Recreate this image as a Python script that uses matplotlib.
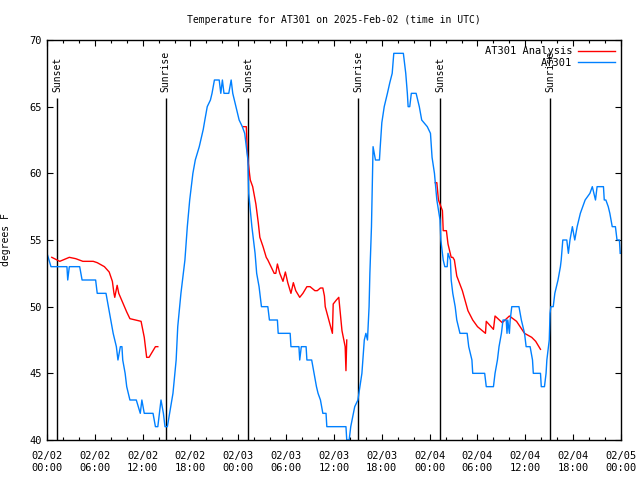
import numpy as np
import pandas as pd
import matplotlib
matplotlib.use("Agg")
import matplotlib.pyplot as plt
import matplotlib.dates as mdates

plt.rcParams['font.family'] = ['DejaVu Sans Mono']

start = pd.Timestamp("2025-02-02 00:00")

# AT301 observations: hours since 02/02 00:00 UTC, degrees F
obs_h = [0.0, 0.5, 2.5, 2.6, 2.8, 4.1, 4.4, 6.1, 6.3, 7.4, 7.7, 8.0, 8.3, 8.7, 8.9, 9.2, 9.4, 9.5,
         9.8, 10.0, 10.4, 11.2, 11.7, 11.9, 12.2, 12.5, 13.3, 13.6, 13.9, 14.3, 14.6, 14.8, 15.1,
         15.8, 16.2, 16.4, 16.8, 17.3, 17.6, 17.9, 18.3, 18.6, 19.1, 19.6, 19.8, 20.1, 20.5, 20.7,
         21.0, 21.6, 21.8, 22.0, 22.2, 22.8, 23.1, 23.3, 23.7, 24.1, 24.5, 24.8, 25.0, 25.2, 25.3,
         25.7, 26.1, 26.3, 26.6, 26.9, 27.7, 27.9, 28.9, 29.0, 30.5, 30.6, 31.6, 31.7, 31.9, 32.5,
         32.6, 33.2, 33.5, 33.8, 34.0, 34.3, 34.6, 35.0, 35.1, 37.5, 37.6, 37.9, 38.1, 38.6, 39.0,
         39.5, 39.8, 40.0, 40.2, 40.4, 40.5, 40.7, 40.8, 40.9, 41.2, 41.7, 41.8, 42.0, 42.3, 42.7,
         43.0, 43.3, 43.5, 44.7, 45.0, 45.2, 45.3, 45.5, 45.7, 46.3, 46.7, 47.0, 47.7, 48.1, 48.3,
         48.6, 48.9, 49.3, 49.4, 49.7, 49.9, 50.2, 50.3, 50.6, 50.7, 50.9, 51.2, 51.4, 51.8, 52.7,
         52.9, 53.3, 53.4, 54.9, 55.1, 56.0, 56.2, 56.5, 56.7, 57.0, 57.2, 57.6, 57.7, 57.8, 58.0,
         58.1, 58.3, 59.2, 59.5, 59.9, 60.1, 60.6, 60.9, 61.0, 61.9, 62.0, 62.4, 62.6, 62.7, 63.0,
         63.1, 63.2, 63.5, 63.7, 64.1, 64.4, 64.5, 64.7, 65.2, 65.4, 65.6, 65.9, 66.2, 66.5, 66.9,
         67.5, 68.1, 68.4, 68.8, 69.0, 69.8, 69.9, 70.1, 70.4, 70.6, 70.9, 71.3, 71.5, 71.8, 71.9]
obs_t = [54, 53, 53, 52, 53, 53, 52, 52, 51, 51, 50, 49, 48, 47, 46, 47, 47, 46,
         45, 44, 43, 43, 42, 43, 42, 42, 42, 41, 41, 43, 42, 41, 41,
         43.5, 46, 48.5, 51, 53.5, 56, 58, 60, 61, 62, 63.3, 64, 65, 65.5, 66,
         67, 67, 66, 67, 66, 66, 67, 66, 65, 64, 63.5, 63, 62, 61, 58.5,
         56, 54, 52.5, 51.5, 50, 50, 49, 49, 48, 48, 47, 47, 46, 47, 47,
         46, 46, 45, 44, 43.5, 43, 42, 42, 41, 41, 40, 40, 41, 42.5, 43,
         45, 47.5, 48, 47.5, 50, 52.5, 56, 59, 62, 61, 61, 62, 63.8, 65, 66,
         66.8, 67.5, 69, 69, 67.5, 66, 65, 65, 66, 66, 65, 64, 63.5, 63, 61.2,
         60, 58, 56.5, 55, 53.5, 53, 53, 54, 53.5, 52, 51, 50, 49, 48, 48,
         47, 46, 45, 45, 44, 44, 45, 46, 47, 48, 49, 49, 48, 49, 48,
         49, 50, 50, 49, 48, 47, 47, 46, 45, 45, 44, 44, 45, 46, 47.5,
         49.5, 50, 50, 51, 52, 53, 53.5, 55, 55, 54, 55, 56, 55, 56, 57,
         58, 58.5, 59, 58, 59, 59, 58, 58, 57.5, 57, 56, 56, 55, 55, 54]

# AT301 Analysis, three overnight segments
an1_h = [0.6, 1.6, 2.8, 3.6, 4.5, 5.8, 6.3, 7.2, 7.8, 8.2, 8.4, 8.5, 8.8, 9.0, 9.5, 10.0,
         10.4, 11.8, 12.2, 12.5, 12.8, 13.2, 13.6, 13.9]
an1_t = [53.7, 53.4, 53.7, 53.6, 53.4, 53.4, 53.3, 53.0, 52.6, 51.9, 51.0, 50.7, 51.6, 51.0,
         50.3, 49.6, 49.1, 48.9, 47.7, 46.2, 46.2, 46.6, 47.0, 47.0]
an2_h = [24.6, 25.0, 25.1, 25.2, 25.5, 25.8, 26.2, 26.5, 26.7, 27.1, 27.5, 27.7, 28.1, 28.5,
         28.7, 28.9, 29.2, 29.6, 29.9, 30.2, 30.6, 30.9, 31.2, 31.7, 32.1, 32.6, 33.0, 33.6,
         33.9, 34.3, 34.6, 34.8, 34.9, 35.8, 35.9, 36.3, 36.6, 37.0, 37.4, 37.5, 37.6]
an2_t = [63.5, 63.5, 62.0, 61.0, 59.5, 59.0, 57.7, 56.3, 55.2, 54.5, 53.7, 53.5, 53.0, 52.5,
         52.5, 53.2, 52.5, 51.9, 52.6, 51.8, 51.0, 51.8, 51.2, 50.7, 51.0, 51.5, 51.5, 51.2,
         51.2, 51.4, 51.4, 50.8, 50.0, 48.0, 50.2, 50.5, 50.7, 48.2, 47.0, 45.2, 47.5]
an3_h = [48.7, 48.9, 49.1, 49.6, 49.7, 50.1, 50.3, 50.7, 50.9, 51.1, 51.4, 52.1, 52.8, 53.4,
         54.0, 55.0, 55.1, 56.0, 56.2, 57.1, 58.0, 58.9, 59.9, 60.8, 61.3, 61.9]
an3_t = [59.3, 59.3, 58.0, 57.2, 55.7, 55.7, 54.7, 53.7, 53.7, 53.5, 52.3, 51.2, 49.7, 49.0,
         48.5, 48.0, 48.9, 48.3, 49.3, 48.8, 49.3, 48.9, 48.0, 47.7, 47.4, 46.8]

events = ["Sunset", "Sunrise", "Sunset", "Sunrise", "Sunset", "Sunrise"]
event_h = [1.25, 14.9, 25.2, 39.0, 49.3, 63.1]


def to_time(hours):
    return start + pd.to_timedelta(np.array(hours), unit="h")


fig = plt.figure(figsize=(6.4, 4.8), dpi=100)
ax = fig.add_axes([47 / 640, 40 / 480, 574 / 640, 400 / 480])

for name, h in zip(events, event_h):
    t = to_time([h])[0]
    ax.vlines(t, 40, 65.65, color="black", lw=1.0)
    ax.text(t, 66.1, name, rotation=90, ha="center", va="bottom", fontsize=7)

red = "#ff0000"
blue = "#0080ff"
ax.plot(to_time(an1_h), an1_t, color=red, lw=1.0, label="AT301 Analysis")
ax.plot(to_time(an2_h), an2_t, color=red, lw=1.0)
ax.plot(to_time(an3_h), an3_t, color=red, lw=1.0)
ax.plot(to_time(obs_h), obs_t, color=blue, lw=1.0, label="AT301")

ax.set_xlim(start, start + pd.Timedelta(hours=72))
ax.set_ylim(40, 70)
ax.set_yticks(range(40, 71, 5))
ax.xaxis.set_major_locator(mdates.HourLocator(byhour=range(0, 24, 6)))
ax.xaxis.set_minor_locator(mdates.HourLocator(byhour=range(0, 24, 2)))
ax.xaxis.set_major_formatter(mdates.DateFormatter("%m/%d\n%H:%M"))
ax.tick_params(which="both", direction="in", top=True, right=True, labelsize=7.5)
ax.tick_params(which="major", length=4.5, width=0.8)
ax.tick_params(which="minor", length=2.5, width=0.8)
ax.tick_params(axis="x", pad=8)
for s in ax.spines.values():
    s.set_linewidth(1.0)

ax.set_title("Temperature for AT301 on 2025-Feb-02 (time in UTC)", fontsize=7, pad=12)
ax.set_ylabel("degrees F", fontsize=7)
ax.yaxis.set_label_coords(-0.062, 0.5)

ax.legend(loc="upper right", frameon=False, markerfirst=False, fontsize=7.5,
          handlelength=3.5, labelspacing=0.15, borderaxespad=0.2, handletextpad=0.6)

fig.savefig("out.png", dpi=100)
